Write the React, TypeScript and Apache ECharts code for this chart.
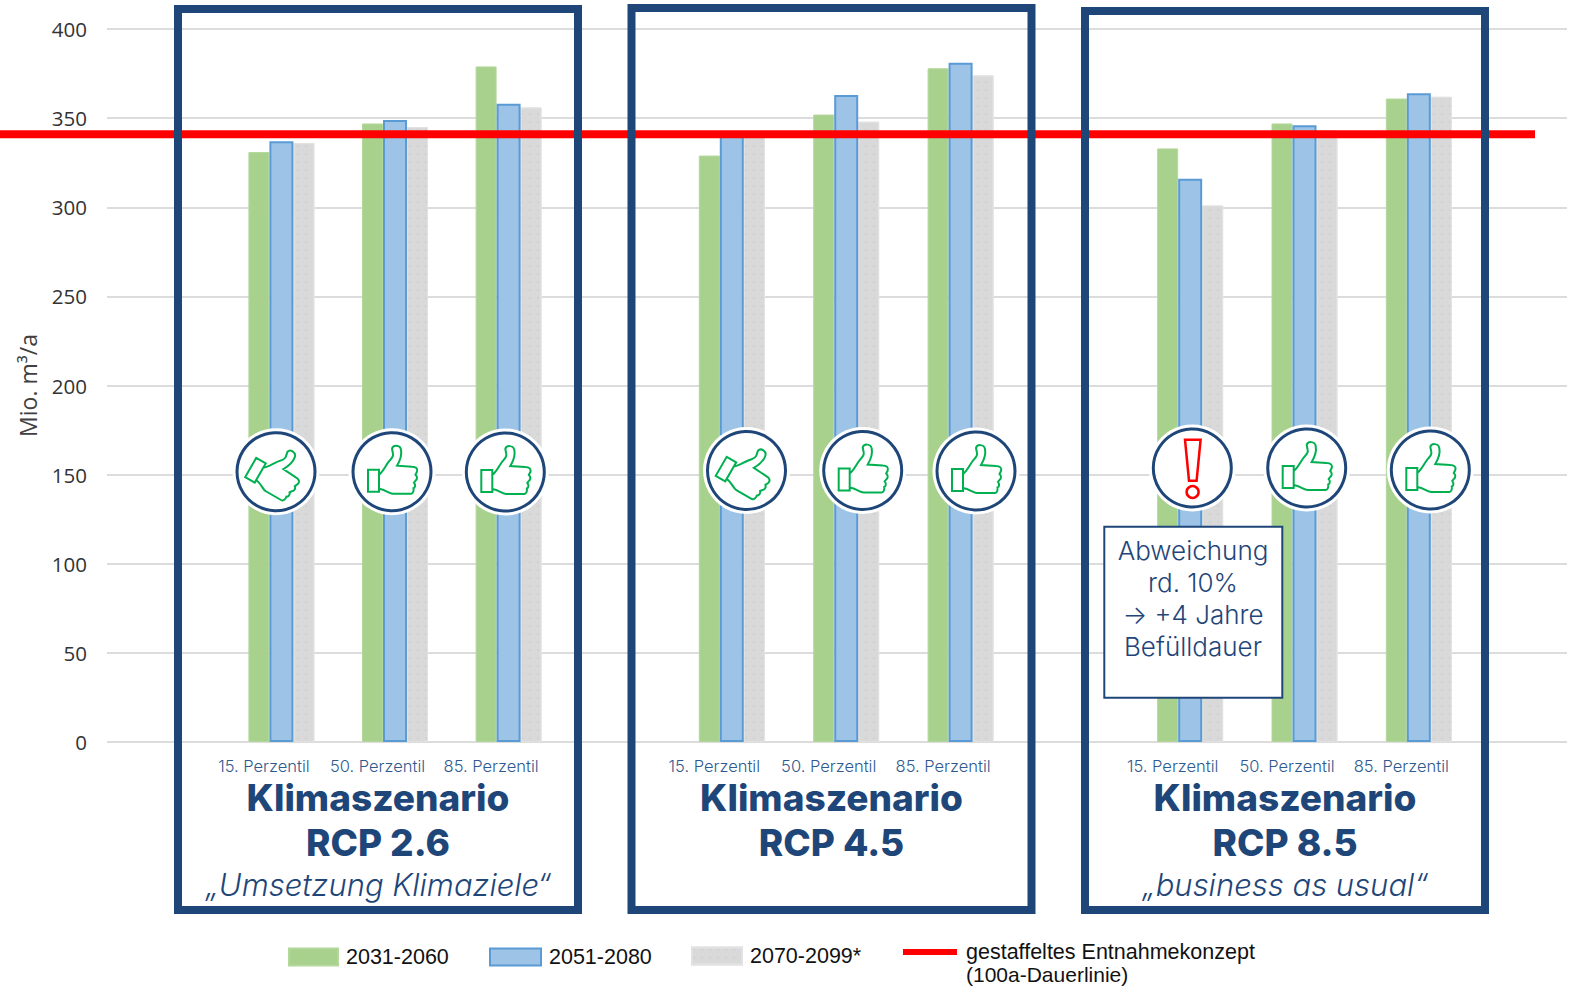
import React, { useEffect, useRef } from "react";
import * as echarts from "echarts";

const percentiles = ["15. Perzentil", "50. Perzentil", "85. Perzentil"];
const rcp26_2031 = [331, 347, 379];
const rcp26_2051 = [337, 349, 358];
const rcp26_2070 = [336, 345, 356];
const rcp45_2031 = [329, 352, 378];
const rcp45_2051 = [340, 363, 381];
const rcp45_2070 = [340, 348, 374];
const rcp85_2031 = [333, 347, 361];
const rcp85_2051 = [316, 346, 364];
const rcp85_2070 = [301, 343, 362];
const concept = 341;
const periods = ["2031-2060", "2051-2080", "2070-2099*"];
const conceptName = "gestaffeltes Entnahmekonzept";
const conceptName2 = "(100a-Dauerlinie)";
const yTicksMax = 400;
const scenarioTitles = ["RCP 2.6", "RCP 4.5", "RCP 8.5"];
const scenarioSubs = ["„Umsetzung Klimaziele“", "", "„business as usual“"];
const noteLines = ["Abweichung", "rd. 10%", "→ +4 Jahre", "Befülldauer"];

const NAVY = "#1f4679";
const TOP = 29;
const H = 713;
const BAR_WIDTHS = [21, 24, 21];
const THUMB =
  "M-13 3 C-9 0 -7 -5 -4 -9 C-1 -13 2 -15 1 -18 L0 -23 C1 -27 8 -27 9 -22 C10 -17 8 -11 5 -6 L20 -5 C24 -5 26 -3 25 0 L23.5 3 C26 5 25 8 23.5 9 L22 11 C24 13 23 16 21.5 16.5 C22 19 21 22 19 22 L1 22 C-3 22 -6 18 -13 17 Z M-24 -2 L-13 -2 L-13 20 L-24 20 Z";
echarts.graphic.registerShape("thumb", echarts.graphic.extendPath(THUMB, {}));

const panels = [
  { left: 224.6, width: 340.8, values: [rcp26_2031, rcp26_2051, rcp26_2070] },
  { left: 674.6, width: 343.2, values: [rcp45_2031, rcp45_2051, rcp45_2070] },
  { left: 1133, width: 343, values: [rcp85_2031, rcp85_2051, rcp85_2070] },
];
const frames = [
  { x: 178, y: 9, r: 578, cx: 378 },
  { x: 631.5, y: 8, r: 1031.5, cx: 831.5 },
  { x: 1085, y: 11, r: 1485, cx: 1285 },
];
const icons = [
  { x: 276, y: 471.7, tilt: true },
  { x: 392, y: 471.7 },
  { x: 505.3, y: 472 },
  { x: 746.5, y: 470.5, tilt: true },
  { x: 862.7, y: 470.5 },
  { x: 976, y: 471 },
  { x: 1192.3, y: 468, warn: true },
  { x: 1306.7, y: 468 },
  { x: 1430.3, y: 470 },
];

const styles: any[] = [
  { color: "#a9d18e", borderColor: "#b4d89c", borderWidth: 1 },
  { color: "#9dc3e6", borderColor: "#5b9bd5", borderWidth: 2 },
  {
    color: "#d9d9d9",
    borderColor: "#e2e2e2",
    borderWidth: 1,
    decal: {
      symbol: "circle",
      symbolSize: 0.3,
      color: "rgba(165,165,165,0.45)",
      dashArrayX: [[4, 4]],
      dashArrayY: [4, 4],
      rotation: 0,
    },
  },
];

function buildOption(): any {
  const grids: any[] = [{ left: 107, width: 1460, top: TOP, height: H }];
  const xAxes: any[] = [{ type: "value", gridIndex: 0, min: 0, max: 1, show: false }];
  const yAxes: any[] = [
    {
      type: "value",
      gridIndex: 0,
      min: 0,
      max: yTicksMax,
      interval: 50,
      name: "Mio. m³/a",
      nameLocation: "middle",
      nameGap: 68,
      nameRotate: 90,
      nameTextStyle: { fontFamily: "Open Sans", fontSize: 23, color: "#404040" },
      axisLine: { show: false },
      axisTick: { show: false },
      axisLabel: { margin: 20, padding: [0, 0, 2, 0], fontFamily: "Open Sans", fontSize: 20.5, color: "#333" },
      splitLine: { lineStyle: { color: "#dcdcdc", width: 2 } },
    },
  ];
  const series: any[] = [];

  panels.forEach((p, i) => {
    const g = i + 1;
    grids.push({ left: p.left, width: p.width, top: TOP, height: H });
    xAxes.push({
      type: "category",
      gridIndex: g,
      data: percentiles,
      axisLine: { show: false },
      axisTick: { show: false },
      axisLabel: {
        interval: 0,
        margin: 15,
        padding: [0, 35, 0, 0],
        fontFamily: "Inter",
        fontWeight: 300,
        fontSize: 16.5,
        color: "#2f5a8f",
      },
    });
    yAxes.push({ type: "value", gridIndex: g, min: 0, max: yTicksMax, show: false, splitLine: { show: false } });
    p.values.forEach((vals, k) => {
      series.push({
        type: "bar",
        name: periods[k],
        xAxisIndex: g,
        yAxisIndex: g,
        data: vals,
        barWidth: BAR_WIDTHS[k],
        barGap: "0%",
        itemStyle: styles[k],
        z: 2 + (k === 1 ? 1 : 0),
      });
    });
  });

  grids.push({ left: 0, width: 1535, top: TOP, height: H });
  xAxes.push({ type: "value", gridIndex: 4, min: 0, max: 1, show: false });
  yAxes.push({ type: "value", gridIndex: 4, min: 0, max: yTicksMax, show: false, splitLine: { show: false } });
  series.push({
    type: "line",
    name: conceptName,
    xAxisIndex: 4,
    yAxisIndex: 4,
    data: [
      [0, concept],
      [1, concept],
    ],
    symbol: "none",
    lineStyle: { color: "#ff0000", width: 8, cap: "butt" },
    itemStyle: { color: "#ff0000" },
    z: 5,
  });

  const legendBase = {
    orient: "horizontal",
    icon: "rect",
    selectedMode: false,
    padding: 0,
    textStyle: { fontFamily: "Liberation Sans", fontSize: 21.5, color: "#111", padding: [0, 0, 0, 3] },
  };
  const legend = [
    { ...legendBase, data: [periods[0]], left: 288, top: 946, itemWidth: 49, itemHeight: 17, itemGap: 0 },
    { ...legendBase, data: [periods[1]], left: 489, top: 946, itemWidth: 51, itemHeight: 17, itemGap: 0 },
    { ...legendBase, data: [periods[2]], left: 691, top: 945, itemWidth: 50, itemHeight: 17, itemGap: 0 },
    {
      ...legendBase,
      data: [conceptName],
      left: 903,
      top: 941,
      itemWidth: 54,
      itemHeight: 6,
      itemGap: 0,
      textStyle: { ...legendBase.textStyle, fontSize: 21.5, padding: [0, 0, 0, 4] },
    },
  ];

  const graphics: any[] = [];
  frames.forEach((f, i) => {
    graphics.push({
      type: "rect",
      z: 10,
      shape: { x: f.x, y: f.y, width: f.r - f.x, height: 910 - f.y },
      style: { fill: "none", stroke: NAVY, lineWidth: 8 },
    });
    graphics.push({
      type: "text",
      z: 12,
      x: f.cx,
      y: 797.5,
      style: {
        text: "Klimaszenario",
        fontFamily: "Inter",
        fontWeight: 800,
        fontSize: 37,
        fill: NAVY,
        align: "center",
        verticalAlign: "middle",
      },
    });
    graphics.push({
      type: "text",
      z: 12,
      x: f.cx,
      y: 842.5,
      style: {
        text: scenarioTitles[i],
        fontFamily: "Inter",
        fontWeight: 800,
        fontSize: 37,
        fill: NAVY,
        align: "center",
        verticalAlign: "middle",
      },
    });
    if (scenarioSubs[i]) {
      graphics.push({
        type: "text",
        z: 12,
        x: f.cx,
        y: 884,
        style: {
          text: scenarioSubs[i],
          fontFamily: "Inter",
          fontWeight: 300,
          fontStyle: "italic",
          fontSize: 31,
          fill: NAVY,
          align: "center",
          verticalAlign: "middle",
        },
      });
    }
  });

  icons.forEach((c: any) => {
    graphics.push({ type: "circle", z: 14, shape: { cx: c.x, cy: c.y, r: 43.5 }, style: { fill: "#fff" } });
    graphics.push({
      type: "circle",
      z: 15,
      shape: { cx: c.x, cy: c.y, r: 39 },
      style: { fill: "#fff", stroke: NAVY, lineWidth: 3 },
    });
    if (c.warn) {
      graphics.push({
        type: "polygon",
        z: 16,
        shape: {
          points: [
            [c.x - 7.3, c.y - 28.3],
            [c.x + 8.3, c.y - 28.3],
            [c.x + 4.3, c.y + 12.7],
            [c.x - 3.3, c.y + 12.7],
          ],
        },
        style: { fill: "#fff", stroke: "#ff0000", lineWidth: 2.5 },
      });
      graphics.push({
        type: "circle",
        z: 16,
        shape: { cx: c.x + 0.3, cy: c.y + 24, r: 6 },
        style: { fill: "#fff", stroke: "#ff0000", lineWidth: 2.5 },
      });
    } else {
      graphics.push({
        type: "thumb",
        z: 16,
        x: c.x,
        y: c.y,
        rotation: c.tilt ? -Math.PI / 6 : 0,
        style: { fill: "none", stroke: "#00b050", lineWidth: 2 },
      });
    }
  });

  graphics.push({
    type: "rect",
    z: 18,
    shape: { x: 1104.3, y: 526.7, width: 178, height: 171 },
    style: { fill: "#fff", stroke: NAVY, lineWidth: 2 },
  });
  noteLines.forEach((t, i) => {
    graphics.push({
      type: "text",
      z: 19,
      x: 1193,
      y: 550.5 + i * 32,
      style: {
        text: t,
        fontFamily: "Inter",
        fontWeight: 300,
        fontSize: 26,
        fill: NAVY,
        align: "center",
        verticalAlign: "middle",
      },
    });
  });
  graphics.push({
    type: "text",
    z: 12,
    x: 966,
    y: 974,
    style: {
      text: conceptName2,
      fontFamily: "Liberation Sans",
      fontSize: 21,
      fill: "#111",
      align: "left",
      verticalAlign: "middle",
    },
  });

  return {
    animation: false,
    backgroundColor: "#fff",
    grid: grids,
    xAxis: xAxes,
    yAxis: yAxes,
    series,
    legend,
    graphic: { elements: graphics },
  };
}

export default function App() {
  const ref = useRef<HTMLDivElement>(null);
  useEffect(() => {
    const chart = echarts.init(ref.current!, null, { renderer: "svg" });
    chart.setOption(buildOption());
    return () => chart.dispose();
  }, []);
  return <div ref={ref} style={{ position: "absolute", left: 0, top: 0, width: 1573, height: 986 }} />;
}
